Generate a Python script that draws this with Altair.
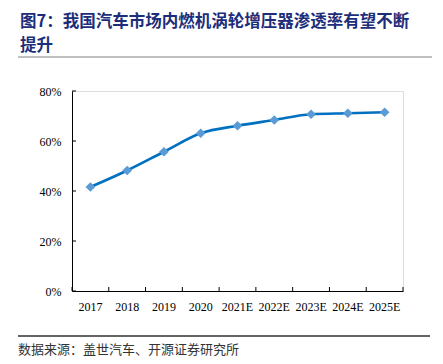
import altair as alt
import pandas as pd

years = ["2017", "2018", "2019", "2020", "2021E", "2022E", "2023E", "2024E", "2025E"]
rates = [0.416, 0.482, 0.557, 0.631, 0.661, 0.684, 0.707, 0.711, 0.715]
y_ticks = [0.0, 0.2, 0.4, 0.6, 0.8]
title_lines = ["图7：我国汽车市场内燃机涡轮增压器渗透率有望不断", "提升"]
source_text = "数据来源：盖世汽车、开源证券研究所"

df = pd.DataFrame({"year": years, "rate": rates})
ticks_df = pd.DataFrame({"v": y_ticks})
xt_df = pd.DataFrame({"year": years})
sep_df = pd.DataFrame({"pos": ["top", "bottom"]})

W, H = 331, 200
serif = "Liberation Serif"
cjk = "Noto Sans CJK SC"

xscale = alt.Scale(domain=years, paddingInner=0, paddingOuter=0)
yscale = alt.Scale(domain=[0, 0.8])

base = alt.Chart(df)

line = base.mark_line(color="#0070C0", strokeWidth=2.6, interpolate="monotone").encode(
    x=alt.X("year:N", scale=xscale, sort=years,
            axis=alt.Axis(title=None, labelAngle=0, labelFont=serif, labelFontSize=12,
                          labelColor="#000000", tickSize=0, labelPadding=10,
                          domainColor="#000000", domainWidth=1)),
    y=alt.Y("rate:Q", scale=yscale,
            axis=alt.Axis(title=None, values=y_ticks, format=".0%", labelFont=serif,
                          labelFontSize=12, labelColor="#000000", tickSize=0,
                          labelPadding=11, grid=False, domainColor="#000000", domainWidth=1)),
)

points = base.mark_point(shape="diamond", filled=True, color="#5B9BD5", size=95, opacity=1).encode(
    x=alt.X("year:N", scale=xscale, sort=years),
    y=alt.Y("rate:Q", scale=yscale),
)

ytick_rules = alt.Chart(ticks_df).mark_rule(color="#000000", strokeWidth=1).encode(
    y=alt.Y("v:Q", scale=yscale),
    x=alt.value(0),
    x2=alt.value(4),
)

xtick_rules = alt.Chart(xt_df).mark_rule(color="#000000", strokeWidth=1).encode(
    x=alt.X("year:N", scale=xscale, sort=years, bandPosition=0),
    y=alt.value(H),
    y2=alt.value(H - 4),
)

xtick_end = alt.Chart(xt_df).transform_filter(alt.datum.year == years[-1]).mark_rule(
    color="#000000", strokeWidth=1).encode(
    x=alt.X("year:N", scale=xscale, sort=years, bandPosition=1),
    y=alt.value(H),
    y2=alt.value(H - 4),
)

title1 = alt.Chart(pd.DataFrame({"t": [title_lines[0]]})).mark_text(
    font=cjk, fontSize=16.5, fontWeight="bold", color="#1C2E7A", align="left", baseline="middle"
).encode(text="t:N", x=alt.value(-52), y=alt.value(-69))

title2 = alt.Chart(pd.DataFrame({"t": [title_lines[1]]})).mark_text(
    font=cjk, fontSize=16.5, fontWeight="bold", color="#1C2E7A", align="left", baseline="middle"
).encode(text="t:N", x=alt.value(-52), y=alt.value(-45))

rule_top = alt.Chart(sep_df).transform_filter(alt.datum.pos == "top").mark_rule(
    color="#808080", strokeWidth=1).encode(
    x=alt.value(-54), x2=alt.value(360), y=alt.value(-34))

rule_bot = alt.Chart(sep_df).transform_filter(alt.datum.pos == "bottom").mark_rule(
    color="#303030", strokeWidth=1.5).encode(
    x=alt.value(-54), x2=alt.value(358), y=alt.value(245))

source = alt.Chart(pd.DataFrame({"t": [source_text]})).mark_text(
    font=cjk, fontSize=13, color="#333333", align="left", baseline="middle"
).encode(text="t:N", x=alt.value(-54), y=alt.value(259))

chart = alt.layer(
    line, points, ytick_rules, xtick_rules, xtick_end, title1, title2, rule_top, rule_bot, source
).properties(
    width=W, height=H,
    autosize=alt.AutoSizeParams(type="none"),
    padding={"left": 64, "top": 83, "right": 32, "bottom": 70},
).configure_view(stroke=None).configure(background="#ffffff")

chart.save("out.html", embed_options={"renderer": "svg", "actions": False})
